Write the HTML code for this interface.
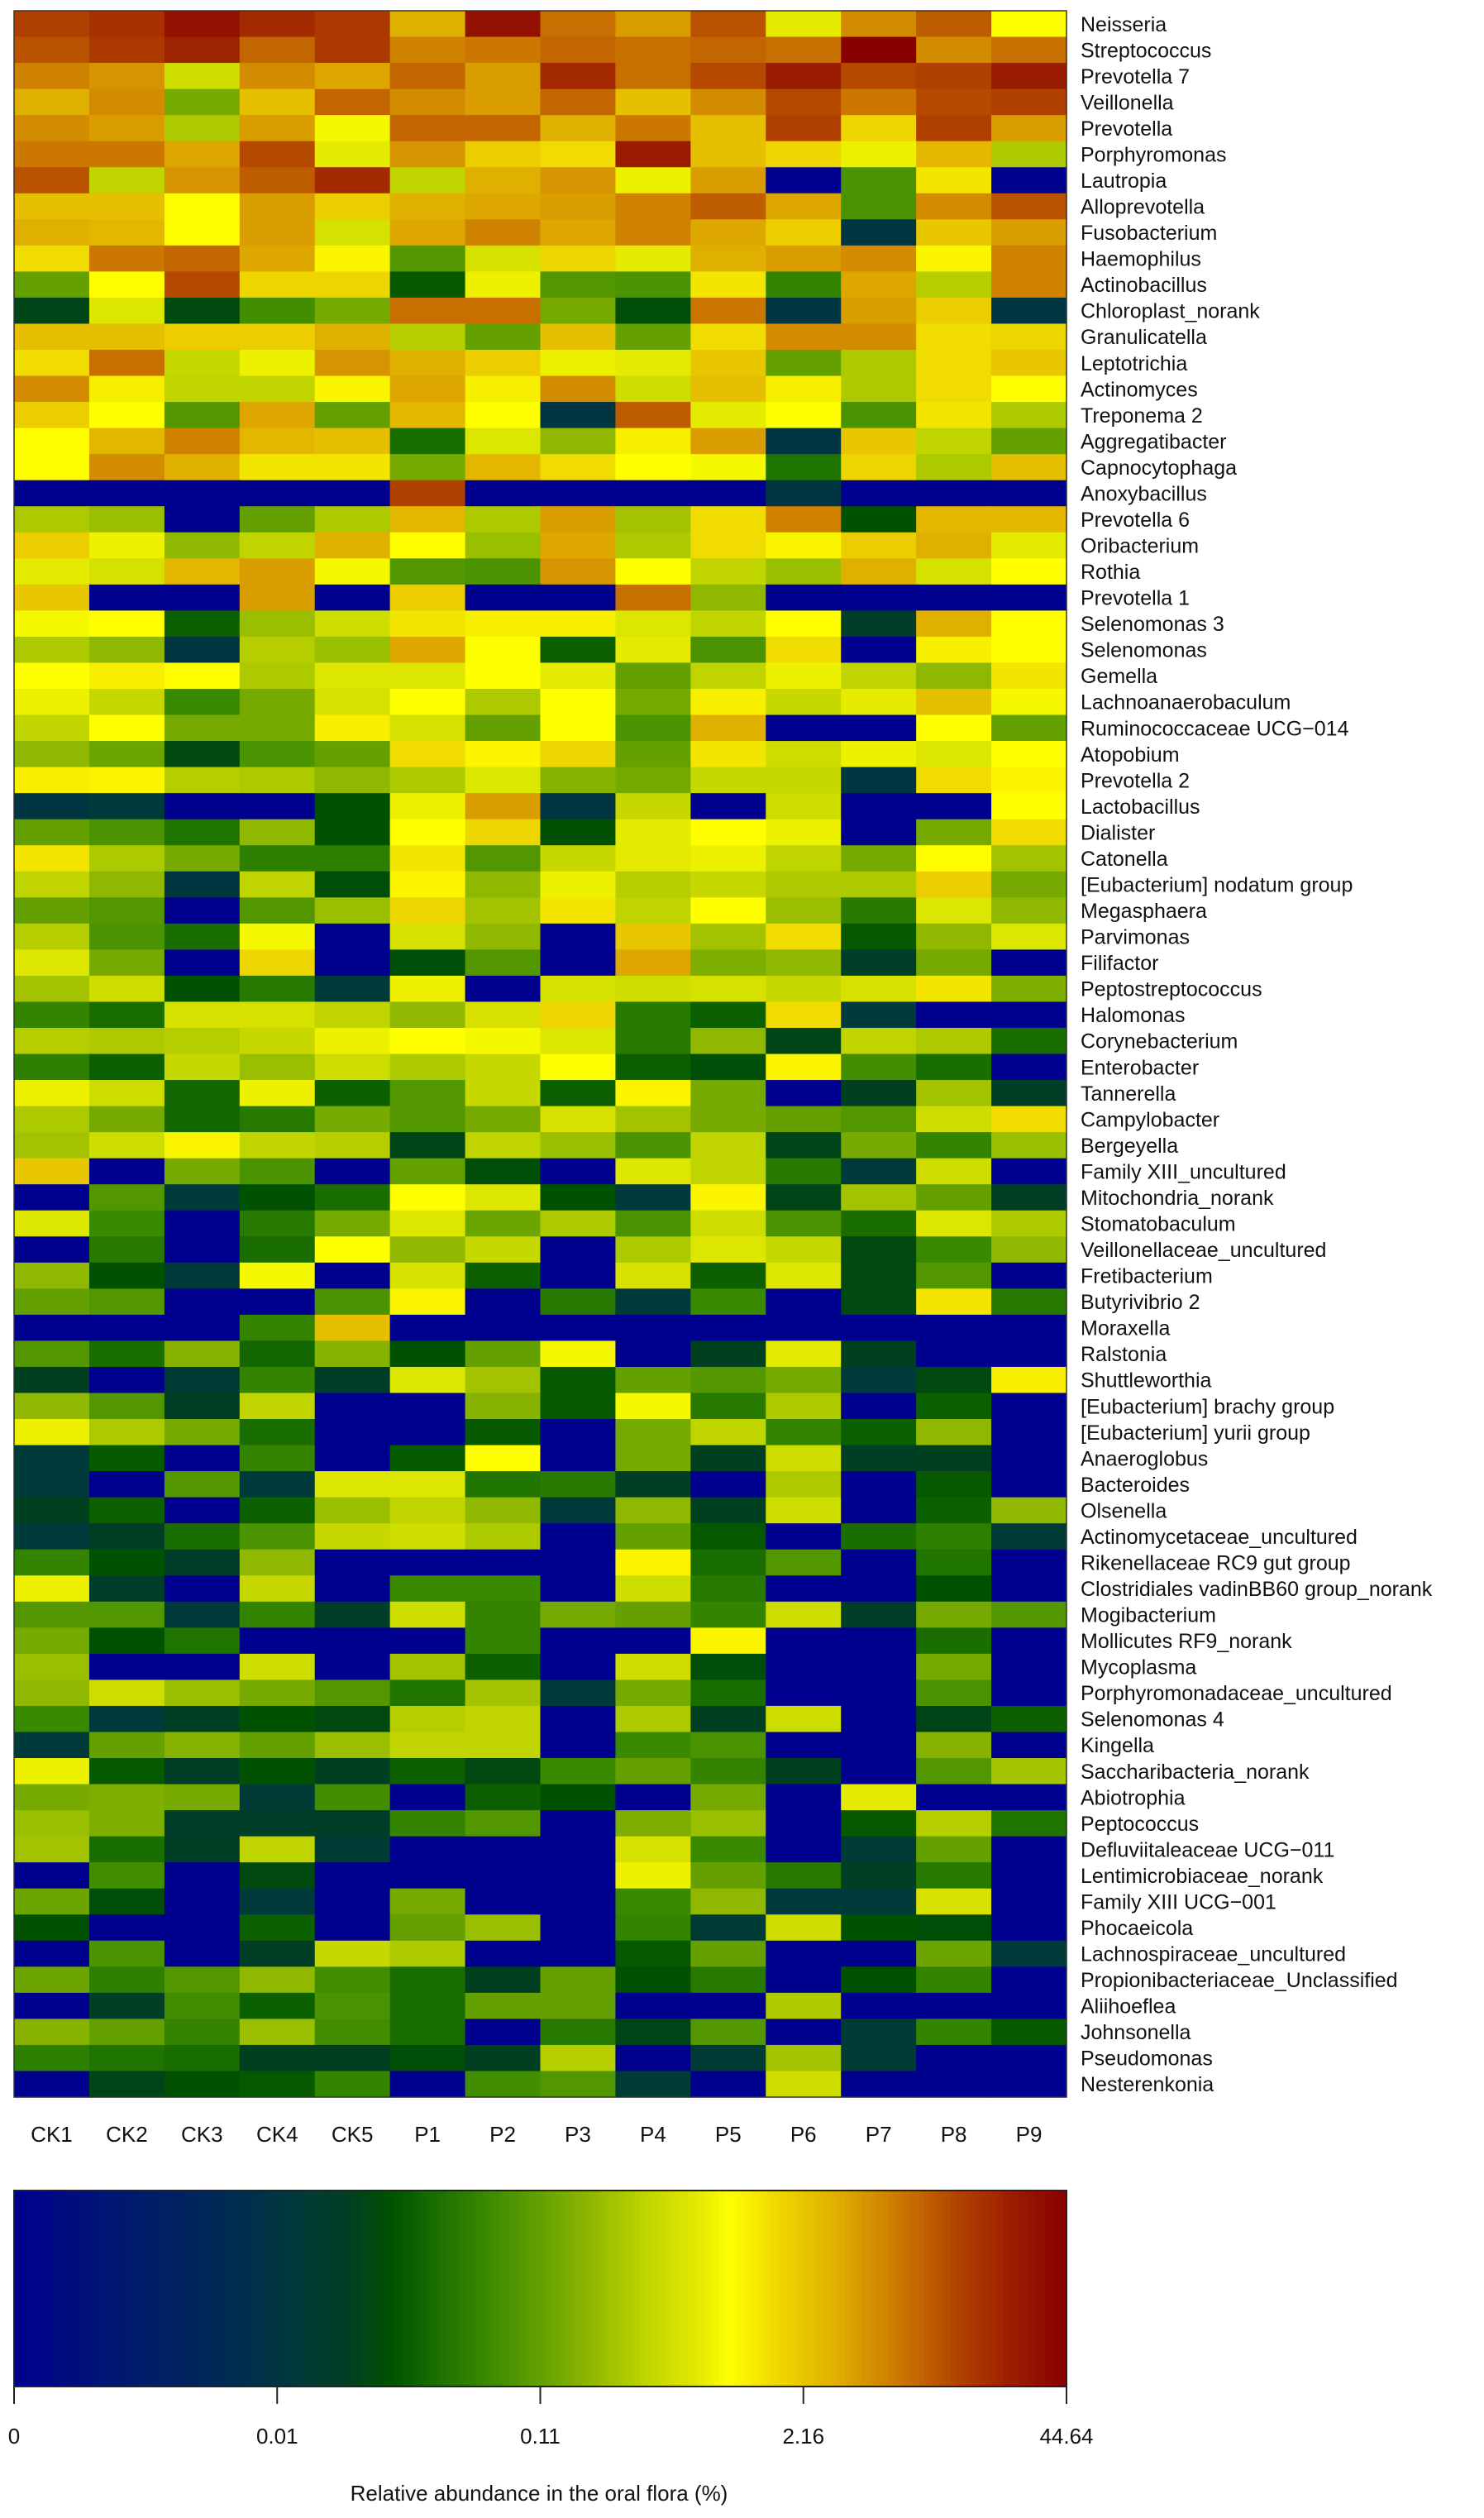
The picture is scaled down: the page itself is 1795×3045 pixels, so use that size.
<!DOCTYPE html>
<html><head><meta charset="utf-8"><style>
html,body{margin:0;padding:0;background:#fff;}
svg{display:block;font-family:"Liberation Sans",Arial,sans-serif;}
</style></head><body>
<svg id="chart" width="1795" height="3045" viewBox="0 0 1795 3045" xmlns="http://www.w3.org/2000/svg">
<defs><linearGradient id="cbgrad" x1="0" x2="1" y1="0" y2="0"></linearGradient></defs>
<g id="cells"></g>
<g id="rowlabels"></g>
<g id="collabels"></g>
<g id="colorbar"></g>
<text x="652" y="3024" font-size="26" text-anchor="middle" fill="#111">Relative abundance in the oral flora (%)</text>
</svg>
<script>
const samples=["CK1","CK2","CK3","CK4","CK5","P1","P2","P3","P4","P5","P6","P7","P8","P9"];
const taxa=["Neisseria","Streptococcus","Prevotella 7","Veillonella","Prevotella","Porphyromonas","Lautropia","Alloprevotella","Fusobacterium","Haemophilus","Actinobacillus","Chloroplast_norank","Granulicatella","Leptotrichia","Actinomyces","Treponema 2","Aggregatibacter","Capnocytophaga","Anoxybacillus","Prevotella 6","Oribacterium","Rothia","Prevotella 1","Selenomonas 3","Selenomonas","Gemella","Lachnoanaerobaculum","Ruminococcaceae UCG\u2212014","Atopobium","Prevotella 2","Lactobacillus","Dialister","Catonella","[Eubacterium] nodatum group","Megasphaera","Parvimonas","Filifactor","Peptostreptococcus","Halomonas","Corynebacterium","Enterobacter","Tannerella","Campylobacter","Bergeyella","Family XIII_uncultured","Mitochondria_norank","Stomatobaculum","Veillonellaceae_uncultured","Fretibacterium","Butyrivibrio 2","Moraxella","Ralstonia","Shuttleworthia","[Eubacterium] brachy group","[Eubacterium] yurii group","Anaeroglobus","Bacteroides","Olsenella","Actinomycetaceae_uncultured","Rikenellaceae RC9 gut group","Clostridiales vadinBB60 group_norank","Mogibacterium","Mollicutes RF9_norank","Mycoplasma","Porphyromonadaceae_uncultured","Selenomonas 4","Kingella","Saccharibacteria_norank","Abiotrophia","Peptococcus","Defluviitaleaceae UCG\u2212011","Lentimicrobiaceae_norank","Family XIII UCG\u2212001","Phocaeicola","Lachnospiraceae_uncultured","Propionibacteriaceae_Unclassified","Aliihoeflea","Johnsonella","Pseudomonas","Nesterenkonia"];
// scaled abundance level (0-100) per taxon, columns CK1..P9
const levels=[
[90,92,97,93,91,78,97,85,80,88,65,82,87,68],
[88,91,94,86,91,83,84,86,85,86,85,100,82,85],
[83,81,62,82,79,86,80,93,85,89,95,89,90,95],
[78,82,52,76,86,82,80,86,76,82,89,84,89,90],
[82,80,58,80,67,86,86,78,84,76,90,73,90,80],
[84,84,79,89,65,81,74,72,95,76,73,66,77,58],
[88,60,81,87,93,60,78,81,66,80,0,47,71,0],
[76,76,68,80,74,78,79,80,83,87,79,47,82,88],
[78,77,68,80,63,79,83,79,83,79,74,25,75,80],
[72,84,86,79,69,48,63,73,65,78,80,82,69,83],
[50,68,89,73,73,37,66,48,47,71,44,79,59,83],
[33,64,34,46,52,85,85,52,35,84,25,80,74,25],
[76,76,74,74,78,59,50,76,50,72,82,82,72,73],
[72,85,61,66,81,78,74,66,65,75,50,58,72,75],
[82,70,60,60,69,79,70,82,62,76,70,58,72,68],
[74,68,48,79,50,77,68,25,87,65,68,47,71,58],
[68,77,83,77,76,40,64,55,70,80,25,75,60,50],
[68,82,78,71,71,52,77,72,68,67,41,73,58,76],
[0,0,0,0,0,90,0,0,0,0,25,0,0,0],
[58,56,0,50,58,77,58,80,57,72,83,36,77,77],
[74,66,55,60,78,68,56,79,58,72,69,74,78,65],
[65,63,77,80,67,48,47,81,68,60,56,78,63,68],
[75,0,0,80,0,74,0,0,85,55,0,0,0,0],
[67,68,38,56,62,71,70,70,64,60,68,30,78,68],
[58,55,25,59,56,79,68,38,65,47,72,0,70,68],
[68,70,68,58,64,64,68,65,50,60,66,60,55,71],
[66,61,45,52,63,68,58,68,52,70,61,65,76,67],
[60,68,52,52,70,63,50,68,47,78,0,0,68,50],
[55,51,34,47,50,72,69,73,50,71,62,66,64,68],
[70,69,59,58,55,58,64,54,52,61,61,25,72,69],
[25,27,0,0,36,66,80,25,61,0,62,0,0,68],
[50,47,41,55,36,68,73,36,65,68,66,0,52,72],
[71,58,52,43,43,71,48,61,65,66,60,52,68,57],
[60,55,25,60,35,69,55,66,59,61,58,58,74,52],
[50,48,0,48,56,73,57,71,60,68,56,42,64,55],
[59,47,40,67,0,63,55,0,75,57,72,37,55,64],
[64,52,0,73,0,35,48,0,79,53,55,30,52,0],
[57,62,36,42,27,66,0,63,62,63,61,63,71,53],
[44,40,63,63,60,55,63,73,42,38,72,27,0,0],
[59,58,59,61,66,68,67,64,42,55,33,60,58,40],
[43,38,61,56,62,58,61,68,38,35,69,46,40,0],
[66,62,39,66,38,48,61,38,69,52,0,32,57,31],
[58,52,39,42,52,48,52,63,57,52,50,48,62,72],
[57,62,69,60,59,33,60,56,47,60,33,52,44,56],
[75,0,52,47,0,50,35,0,64,60,42,27,62,0],
[0,48,27,36,40,68,64,36,27,69,33,57,50,31],
[64,45,0,42,52,64,51,58,47,62,47,40,64,58],
[0,42,0,40,68,55,61,0,58,64,61,34,45,55],
[55,36,27,67,0,63,38,0,63,38,64,34,48,0],
[50,48,0,0,47,69,0,42,27,45,0,34,71,42],
[0,0,0,44,76,0,0,0,0,0,0,0,0,0],
[48,40,54,39,54,36,50,67,0,32,65,32,0,0],
[32,0,28,44,30,64,57,37,50,48,52,27,34,70],
[55,48,31,60,0,0,54,37,67,42,58,0,38,0],
[66,58,52,40,0,0,37,0,52,60,44,38,55,0],
[27,37,0,44,0,37,68,0,52,32,62,31,32,0],
[27,0,48,27,64,64,41,42,31,0,58,0,37,0],
[32,38,0,38,56,60,55,27,55,32,62,0,38,55],
[27,31,40,47,61,62,58,0,50,37,0,40,43,28],
[44,36,30,55,0,0,0,0,69,40,48,0,41,0],
[66,30,0,61,0,45,45,0,62,42,0,0,36,0],
[48,48,27,44,30,62,44,52,50,44,62,30,52,48],
[52,36,41,0,0,0,44,0,0,69,0,0,40,0],
[56,0,0,62,0,57,38,0,62,35,0,0,52,0],
[55,62,56,52,48,41,57,27,52,40,0,0,47,0],
[45,27,31,36,34,59,60,0,58,32,62,0,33,38],
[27,50,54,50,56,60,60,0,45,47,0,0,54,0],
[66,37,31,36,32,38,34,45,50,44,32,0,48,57],
[52,53,52,28,46,0,38,36,0,52,0,65,0,0],
[56,53,30,30,30,44,48,0,53,56,0,37,59,41],
[57,40,31,60,28,0,0,0,63,45,0,28,50,0],
[0,46,0,34,0,0,0,0,66,50,42,31,42,0],
[51,35,0,27,0,52,0,0,45,55,27,27,63,0],
[36,0,0,38,0,50,56,0,44,28,62,36,35,0],
[0,47,0,31,61,58,0,0,37,50,0,0,51,27],
[51,43,48,55,46,40,32,50,36,42,0,36,44,0],
[0,31,46,38,47,40,50,50,0,0,58,0,0,0],
[54,50,44,56,46,40,0,42,33,48,0,28,44,37],
[43,41,40,32,32,35,32,59,0,28,57,28,0,0],
[0,33,36,37,44,0,46,48,28,0,62,0,0,0]
];
const tickLabels=["0","0.01","0.11","2.16","44.64"];
const tickLevels=[0,25,50,75,100];

const NS="http://www.w3.org/2000/svg";
const X0=17,X1=1290,Y0=13,Y1=2536;
const cw=(X1-X0)/samples.length, rh=(Y1-Y0)/taxa.length;
const xPos=i=>X0+i*cw, yPos=j=>Y0+j*rh;
const stops=[[0,[0,0,143]],[10,[0,24,112]],[20,[0,42,85]],[27,[0,58,58]],[32,[0,64,32]],[36,[0,82,0]],[40,[26,110,0]],[45,[58,138,0]],[50,[100,160,0]],[55,[144,184,0]],[60,[192,212,0]],[65,[228,234,0]],[68,[255,255,0]],[72,[240,220,0]],[78,[224,176,0]],[84,[204,120,0]],[90,[176,64,0]],[95,[154,28,0]],[100,[136,0,0]]];
function color(v){
  v=Math.max(0,Math.min(100,v));
  for(let k=1;k<stops.length;k++){
    if(v<=stops[k][0]){
      const a=stops[k-1],b=stops[k],t=(v-a[0])/(b[0]-a[0]);
      const c=a[1].map((x,i)=>Math.round(x+(b[1][i]-x)*t));
      return `rgb(${c[0]},${c[1]},${c[2]})`;
    }
  }
  return "rgb(136,0,0)";
}
const cells=document.getElementById('cells');
levels.forEach((row,j)=>row.forEach((v,i)=>{
  const r=document.createElementNS(NS,'rect');
  
  
  r.setAttribute('x',xPos(i));r.setAttribute('y',yPos(j));
  r.setAttribute('width',cw+0.6);r.setAttribute('height',rh+0.6);
  r.setAttribute('fill',color(v));
  cells.appendChild(r);
}));
const frame=document.createElementNS(NS,'rect');


frame.setAttribute('x',X0);frame.setAttribute('y',Y0);frame.setAttribute('width',X1-X0);frame.setAttribute('height',Y1-Y0);
frame.setAttribute('fill','none');frame.setAttribute('stroke','#333');frame.setAttribute('stroke-width','1.5');
cells.appendChild(frame);
const rl=document.getElementById('rowlabels');
taxa.forEach((t,j)=>{
  const tx=document.createElementNS(NS,'text');
  
  
  tx.setAttribute('x',1307);tx.setAttribute('y',yPos(j)+rh/2+9);
  tx.setAttribute('font-size','25');tx.setAttribute('fill','#111');
  tx.textContent=t;rl.appendChild(tx);
});
const cl=document.getElementById('collabels');
samples.forEach((s,i)=>{
  const tx=document.createElementNS(NS,'text');
  
  
  tx.setAttribute('x',xPos(i)+cw/2);tx.setAttribute('y',2590);
  tx.setAttribute('font-size','26');tx.setAttribute('text-anchor','middle');tx.setAttribute('fill','#111');
  tx.textContent=s;cl.appendChild(tx);
});
// color bar
const cb=document.getElementById('colorbar');
const CBY0=2649,CBY1=2886;
const nb=200;
for(let k=0;k<nb;k++){
  const r=document.createElementNS(NS,'rect');
  
  
  r.setAttribute('x',X0+k*(X1-X0)/nb);r.setAttribute('y',CBY0);
  r.setAttribute('width',(X1-X0)/nb+0.8);r.setAttribute('height',CBY1-CBY0);
  r.setAttribute('fill',color((k+0.5)/nb*100));
  cb.appendChild(r);
}
const cbf=document.createElementNS(NS,'rect');


cbf.setAttribute('x',X0);cbf.setAttribute('y',CBY0);cbf.setAttribute('width',X1-X0);cbf.setAttribute('height',CBY1-CBY0);
cbf.setAttribute('fill','none');cbf.setAttribute('stroke','#222');cbf.setAttribute('stroke-width','2');
cb.appendChild(cbf);
tickLevels.forEach((lv,k)=>{
  const x=X0+lv/100*(X1-X0);
  const ln=document.createElementNS(NS,'line');
  
  
  ln.setAttribute('x1',x);ln.setAttribute('x2',x);ln.setAttribute('y1',CBY1);ln.setAttribute('y2',2907);
  ln.setAttribute('stroke','#222');ln.setAttribute('stroke-width','2');
  cb.appendChild(ln);
  const tx=document.createElementNS(NS,'text');
  
  
  tx.setAttribute('x',x);tx.setAttribute('y',2955);
  tx.setAttribute('font-size','26');tx.setAttribute('text-anchor','middle');tx.setAttribute('fill','#111');
  tx.textContent=tickLabels[k];cb.appendChild(tx);
});
</script>
</body></html>
